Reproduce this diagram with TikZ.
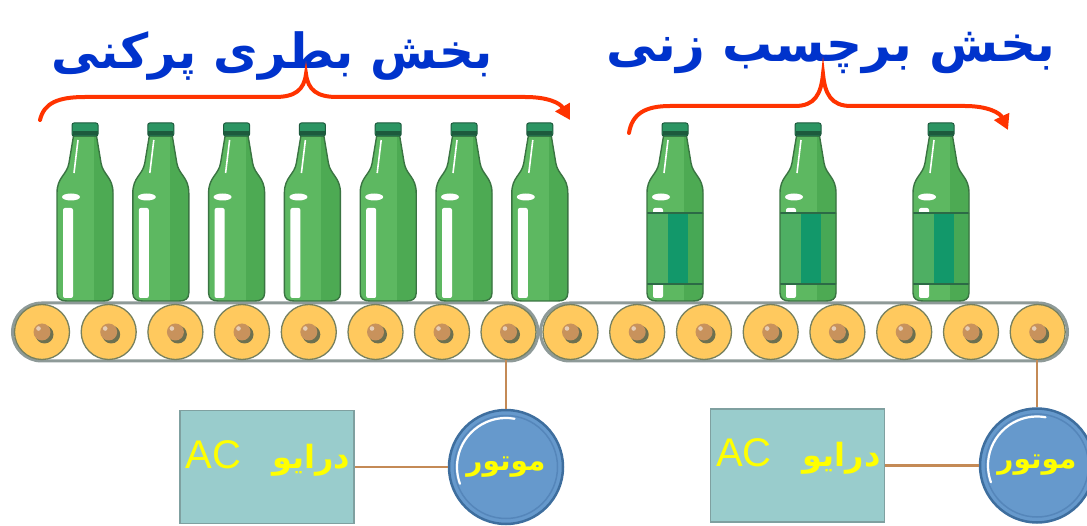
\documentclass[tikz,border=0pt]{standalone}
\usepackage{fontspec}
\setmainfont{Liberation Sans}
\newfontfamily\arabicfont[Script=Arabic]{DejaVu Sans}
\TeXXeTstate=1
\usetikzlibrary{arrows.meta}

\definecolor{titleblue}{HTML}{0033CC}
\definecolor{bracered}{HTML}{FF3300}
\definecolor{glass}{HTML}{5DB861}
\definecolor{glassdark}{HTML}{4DAA53}
\definecolor{glassedge}{HTML}{3A7442}
\definecolor{capgreen}{HTML}{2C9563}
\definecolor{capdark}{HTML}{1D5A3D}
\definecolor{labellight}{HTML}{4EAF63}
\definecolor{labeldark}{HTML}{12986A}
\definecolor{labelline}{HTML}{2C6A46}
\definecolor{rollerfill}{HTML}{FFC95E}
\definecolor{rolleredge}{HTML}{76805E}
\definecolor{hub}{HTML}{C8925C}
\definecolor{hubshadow}{HTML}{6C7050}
\definecolor{beltedge}{HTML}{8E9A98}
\definecolor{drivefill}{HTML}{99CCCC}
\definecolor{driveedge}{HTML}{7FA0A0}
\definecolor{motorfill}{HTML}{6699CC}
\definecolor{motoredge}{HTML}{3E6E9E}
\definecolor{motorring}{HTML}{5586BA}
\definecolor{wire}{HTML}{C48A56}
\definecolor{textyellow}{HTML}{FFFF00}

% one bottle, origin at the middle of its base; #1 = extra paint inside the glass
\newcommand\drawbottle[1]{%
  \begin{scope}
    \clip (-28,-8) -- (-28,-108) .. controls (-28,-124) and (-18,-126) .. (-16,-138)
      -- (-11.5,-165) -- (11.5,-165) -- (16,-138) .. controls (18,-126) and (28,-124) .. (28,-108)
      -- (28,-8) .. controls (28,-2) and (24,0) .. (18,0) -- (-18,0)
      .. controls (-24,0) and (-28,-2) .. (-28,-8) -- cycle;
    \fill[glass] (-30,2) rectangle (30,-170);
    \fill[glassdark] (9,2) rectangle (30,-170);
    \fill[white, rounded corners=2] (-22,-93) rectangle (-12,-3);
    \fill[white] (-14,-104) ellipse [x radius=9, y radius=3.5];
    \draw[white, line width=1.6] (-7,-161) -- (-11,-128);
    #1
  \end{scope}
  \draw[glassedge, line width=1.4] (-28,-8) -- (-28,-108) .. controls (-28,-124) and (-18,-126) .. (-16,-138)
      -- (-11.5,-165) -- (11.5,-165) -- (16,-138) .. controls (18,-126) and (28,-124) .. (28,-108)
      -- (28,-8) .. controls (28,-2) and (24,0) .. (18,0) -- (-18,0)
      .. controls (-24,0) and (-28,-2) .. (-28,-8) -- cycle;
  \filldraw[fill=capgreen, draw=capdark, line width=1, rounded corners=2] (-13,-178) rectangle (13,-165);
  \fill[capdark] (-12.5,-170) rectangle (12.5,-165.5);
}

\tikzset{
  pics/plainbottle/.style={code={\drawbottle{}}},
  pics/labelbottle/.style={code={\drawbottle{%
      \fill[labellight] (-30,-88) rectangle (30,-17);
      \fill[labeldark] (-7,-88) rectangle (13,-17);
      \fill[glassdark!90!labeldark] (13,-88) rectangle (30,-17);
      \draw[labelline, line width=1.2] (-30,-88) -- (30,-88) (-30,-17) -- (30,-17);}}},
  title/.style={text=titleblue, inner sep=0},
  brace/.style={draw=bracered, line width=4, line cap=round, -{Triangle[length=15pt,width=16pt]}},
  belt/.style={draw=beltedge, fill=white, line width=3, rounded corners=29},
  roller/.style={circle, minimum size=55, inner sep=0, fill=rollerfill, draw=rolleredge, line width=1.3},
  drive/.style={rectangle, minimum width=174, minimum height=113, fill=drivefill, draw=driveedge, line width=1.5},
  drivetext/.style={text=textyellow, inner sep=0},
  motor/.style={circle, minimum size=114, inner sep=0, fill=motorfill, draw=motoredge, line width=2.5,
    text=textyellow, font=\arabicfont\bfseries\fontsize{28}{28}\selectfont},
  wire/.style={draw=wire, line width=2.5},
}

\begin{document}
\begin{tikzpicture}[x=1pt, y=-1pt]
\useasboundingbox (0,0) rectangle (1087,526);

% section titles
\node[title, font=\arabicfont\bfseries\fontsize{48.5}{50}\selectfont] (t1) at (272,56) {\beginR بخش بطری پرکنی\endR};
\node[title, font=\arabicfont\bfseries\fontsize{50}{50}\selectfont] (t2) at (831,53) {\beginR بخش برچسب زنی\endR};

% braces with arrows
\draw[brace] (40,120) .. controls (44,103) and (58,97) .. (85,97) -- (275,97)
  .. controls (295,97) and (304,90) .. (306,74) .. controls (308,90) and (317,97) .. (337,97)
  -- (525,97) .. controls (548,97) and (560,103) .. (570,120);
\draw[brace] (629,133) .. controls (632,114) and (645,106) .. (670,106) -- (795,106)
  .. controls (815,106) and (821,94) .. (823,74) .. controls (825,94) and (831,106) .. (851,106)
  -- (965,106) .. controls (988,106) and (1000,113) .. (1008,130);

% conveyor belts
\draw[belt] (12.5,303) rectangle (538,361);
\draw[belt] (540.5,303) rectangle (1067.5,361);

% rollers
\foreach \x [count=\i] in {42,108.7,175.4,242,308.8,375.5,442,508.5} {
  \node[roller] (r\i) at (\x,332) {};
  \fill[hubshadow] (\x+2.5,334.5) circle (9);
  \fill[hub] (\x,332) circle (8.5);
  \fill[white, opacity=.55] (\x-3.5,328.5) circle (2.3);
}
\foreach \x [count=\i] in {570.5,637.2,704,770.7,837.4,904.2,971,1037.7} {
  \node[roller] (s\i) at (\x,332) {};
  \fill[hubshadow] (\x+2.5,334.5) circle (9);
  \fill[hub] (\x,332) circle (8.5);
  \fill[white, opacity=.55] (\x-3.5,328.5) circle (2.3);
}

% bottles
\foreach \x in {85,160.8,236.6,312.4,388.2,464,539.8}
  \pic at (\x,301) {plainbottle};
\foreach \x in {675,808,941}
  \pic at (\x,301) {labelbottle};

% drives and motors
\node[drive] (d1) at (267,467) {};
\node[drive] (d2) at (797.5,465.5) {};
\node[drivetext] (d1t) at ([yshift=9pt,xshift=1pt]d1.center) {\beginR{\arabicfont\bfseries\fontsize{32}{32}\selectfont درایو}\hspace{31pt}\beginL{\fontsize{40}{40}\selectfont AC}\endL\endR};
\node[drivetext] (d2t) at ([yshift=9pt,xshift=1pt]d2.center) {\beginR{\arabicfont\bfseries\fontsize{32}{32}\selectfont درایو}\hspace{31pt}\beginL{\fontsize{40}{40}\selectfont AC}\endL\endR};

\node[motor] (m1) at (506,467) {\beginR موتور\endR};
\node[motor] (m2) at (1037,465.5) {\beginR موتور\endR};
\foreach \m in {m1,m2} {
  \draw[motorring, line width=1.5] (\m) circle (51.5);
  \draw[white, line width=2.2, line cap=round] (\m) ++(-80:49) arc[start angle=-80, end angle=-200, radius=49];
}

% wiring
\draw[wire] (m1.north) -- (m1.north |- r8.south);
\draw[wire] (m2.north) -- (m2.north |- s8.south);
\draw[wire] (d1.east) -- (m1.west);
\draw[wire] (d2.east) -- (m2.west);
\end{tikzpicture}
\end{document}
